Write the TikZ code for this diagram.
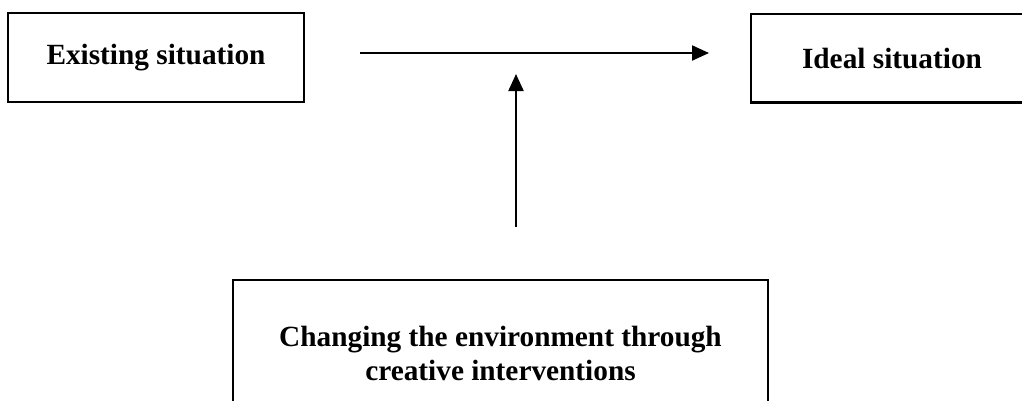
\documentclass[tikz,border=0pt]{standalone}
\usepackage{fontspec}
\setmainfont{Liberation Serif}
\usetikzlibrary{arrows.meta}
\begin{document}
\begin{tikzpicture}[x=1pt,y=-1pt,
  box/.style={draw=black, line width=2.2pt, inner sep=0pt, align=center,
    font=\bfseries\fontsize{29.3}{34}\selectfont},
  conn/.style={line width=2.2pt, -{Triangle[length=17pt,width=15pt]}}]
\useasboundingbox (0,0) rectangle (1022,400);
\clip (0,0) rectangle (1022,400);
\node[box, minimum width=296pt, minimum height=89pt] (exist) at (156,57.5) {Existing situation};
\node[box, minimum width=282pt, minimum height=88.5pt] (ideal) at (892,58.2) {Ideal situation};
\node[box, minimum width=535pt, minimum height=146pt] (change) at (500.5,353) {Changing the environment through\\creative interventions};
\coordinate (hstart) at (360,53);
\coordinate (hend) at (709,53);
\coordinate (vstart) at (516,227);
\coordinate (vend) at (516,74);
\draw[conn] (hstart) -- (hend);
\draw[conn] (vstart) -- (vend);
\end{tikzpicture}
\end{document}
